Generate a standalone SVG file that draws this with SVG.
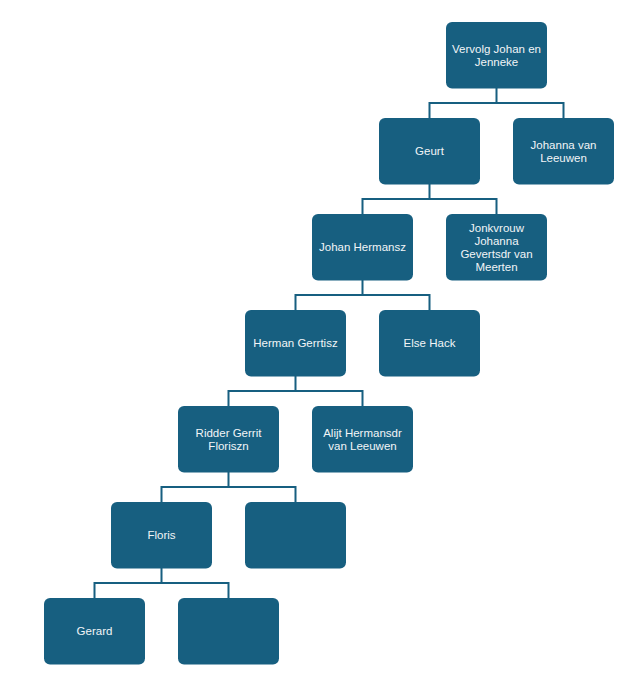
<svg xmlns="http://www.w3.org/2000/svg" width="632" height="687" viewBox="0 0 632 687">
<style>
.n{fill:#175F80;}
.t{fill:#F2F5F7;font-family:"Liberation Sans",Arial,sans-serif;font-size:11.5px;text-anchor:middle;dominant-baseline:central;}
.c{fill:none;stroke:#175F80;stroke-width:2;}
</style>
<rect width="632" height="687" fill="#FFFFFF"/>
<g id="connectors">
<path class="c" d="M496.5 88V103M429.5 118V103H563.5V118"/>
<path class="c" d="M429.5 184V199M362.5 214V199H496.5V214"/>
<path class="c" d="M362.5 280V295M295.5 310V295H429.5V310"/>
<path class="c" d="M295.5 376V391M228.5 406V391H362.5V406"/>
<path class="c" d="M228.5 472V487M161.5 502V487H295.5V502"/>
<path class="c" d="M161.5 568V583M94.5 598V583H228.5V598"/>
</g>
<g id="n0"><rect class="n" x="446" y="22" width="101" height="66.5" rx="6"/><text class="t" x="496.5" y="48.5">Vervolg Johan en</text><text class="t" x="496.5" y="61.5">Jenneke</text></g>
<g id="n1"><rect class="n" x="379" y="118" width="101" height="66.5" rx="6"/><text class="t" x="429.5" y="151">Geurt</text></g>
<g id="n2"><rect class="n" x="513" y="118" width="101" height="66.5" rx="6"/><text class="t" x="563.5" y="144.5">Johanna van</text><text class="t" x="563.5" y="157.5">Leeuwen</text></g>
<g id="n3"><rect class="n" x="312" y="214" width="101" height="66.5" rx="6"/><text class="t" x="362.5" y="247">Johan Hermansz</text></g>
<g id="n4"><rect class="n" x="446" y="214" width="101" height="66.5" rx="6"/><text class="t" x="496.5" y="227.5">Jonkvrouw</text><text class="t" x="496.5" y="240.5">Johanna</text><text class="t" x="496.5" y="253.5">Gevertsdr van</text><text class="t" x="496.5" y="266.5">Meerten</text></g>
<g id="n5"><rect class="n" x="245" y="310" width="101" height="66.5" rx="6"/><text class="t" x="295.5" y="343">Herman Gerrtisz</text></g>
<g id="n6"><rect class="n" x="379" y="310" width="101" height="66.5" rx="6"/><text class="t" x="429.5" y="343">Else Hack</text></g>
<g id="n7"><rect class="n" x="178" y="406" width="101" height="66.5" rx="6"/><text class="t" x="228.5" y="432.5">Ridder Gerrit</text><text class="t" x="228.5" y="445.5">Floriszn</text></g>
<g id="n8"><rect class="n" x="312" y="406" width="101" height="66.5" rx="6"/><text class="t" x="362.5" y="432.5">Alijt Hermansdr</text><text class="t" x="362.5" y="445.5">van Leeuwen</text></g>
<g id="n9"><rect class="n" x="111" y="502" width="101" height="66.5" rx="6"/><text class="t" x="161.5" y="535">Floris</text></g>
<g id="n10"><rect class="n" x="245" y="502" width="101" height="66.5" rx="6"/></g>
<g id="n11"><rect class="n" x="44" y="598" width="101" height="66.5" rx="6"/><text class="t" x="94.5" y="631">Gerard</text></g>
<g id="n12"><rect class="n" x="178" y="598" width="101" height="66.5" rx="6"/></g>
</svg>
